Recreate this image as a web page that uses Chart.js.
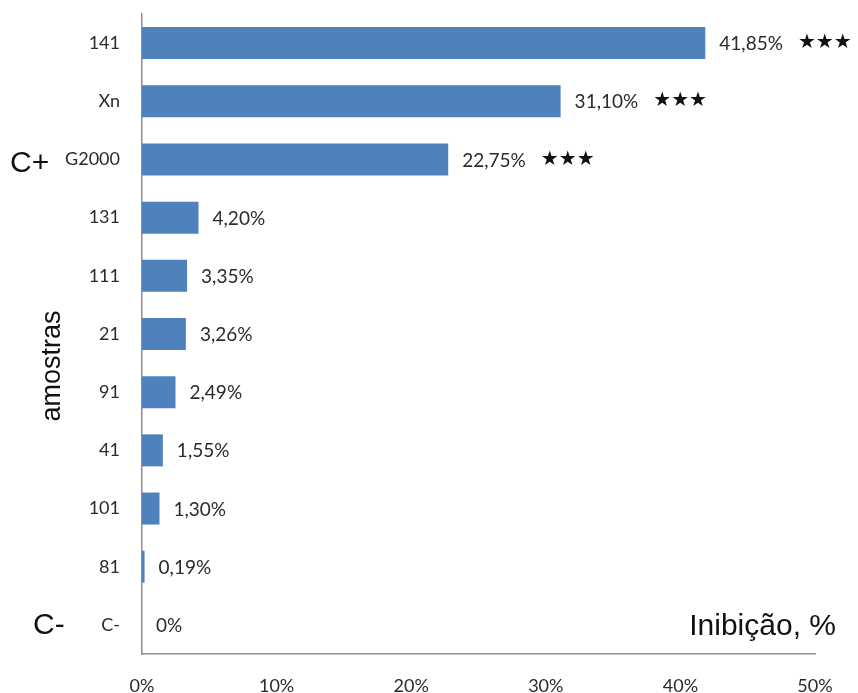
<!DOCTYPE html>
<html>
<head>
<meta charset="utf-8">
<script src="https://cdn.jsdelivr.net/npm/chart.js@4/dist/chart.umd.min.js"></script>
<style>
  html, body { margin: 0; padding: 0; background: #ffffff; }
  #wrap { width: 858px; height: 693px; }
</style>
</head>
<body>
<div id="wrap"><canvas id="chart" width="858" height="693"></canvas></div>
<script>
// Samples, top to bottom
const amostras = ['141', 'Xn', 'G2000', '131', '111', '21', '91', '41', '101', '81', 'C-'];
// Inhibition, %
const inibicao = [41.85, 31.10, 22.75, 4.20, 3.35, 3.26, 2.49, 1.55, 1.30, 0.19, 0];
// Significance markers next to the value labels
const significancia = ['★★★', '★★★', '★★★', '', '', '', '', '', '', '', ''];
// X axis ticks
const xTicks = [0, 10, 20, 30, 40, 50];

const TEXT = '#2b2b2b';
const LABEL_FONT = '19px Lato';

function pct(v) {
  if (v === 0) return '0%';
  return v.toFixed(2).replace('.', ',') + '%';
}

// Value labels with optional significance stars
const valueLabels = {
  id: 'valueLabels',
  afterDatasetsDraw(chart) {
    const ctx = chart.ctx;
    const meta = chart.getDatasetMeta(0);
    ctx.save();
    ctx.textBaseline = 'middle';
    ctx.textAlign = 'left';
    meta.data.forEach((bar, i) => {
      const txt = pct(inibicao[i]);
      const x = bar.x + 14;
      ctx.font = LABEL_FONT;
      ctx.fillStyle = TEXT;
      ctx.fillText(txt, x, bar.y + 1);
      if (significancia[i]) {
        const w = ctx.measureText(txt).width;
        ctx.font = '20px "DejaVu Sans"';
        ctx.fillStyle = '#111111';
        ctx.fillText(significancia[i], x + w + 15, bar.y);
      }
    });
    ctx.restore();
  }
};

// Group markers, axis titles
const annotations = {
  id: 'annotations',
  afterDraw(chart) {
    const ctx = chart.ctx;
    const y = chart.scales.y;
    const area = chart.chartArea;
    ctx.save();
    ctx.fillStyle = '#111111';
    ctx.font = '30px "Liberation Sans"';
    ctx.textBaseline = 'middle';
    ctx.textAlign = 'left';
    ctx.fillText('C+', 10, y.getPixelForValue(2) + 4);
    ctx.fillText('C-', 33, y.getPixelForValue(10) + 1);

    ctx.textAlign = 'right';
    ctx.textBaseline = 'alphabetic';
    ctx.fillText('Inibição, %', 836, area.bottom - 19);

    ctx.translate(60, area.top + (area.bottom - area.top) * 0.55);
    ctx.rotate(-Math.PI / 2);
    ctx.textAlign = 'center';
    ctx.font = '27px "Liberation Sans"';
    ctx.fillText('amostras', 0, 0);
    ctx.restore();
  }
};

new Chart(document.getElementById('chart'), {
  type: 'bar',
  data: {
    labels: amostras,
    datasets: [{
      data: inibicao,
      backgroundColor: '#4F81BD',
      borderWidth: 0,
      categoryPercentage: 1,
      barPercentage: 0.55
    }]
  },
  options: {
    indexAxis: 'y',
    responsive: false,
    animation: false,
    events: [],
    layout: { padding: { left: 0, right: 43, top: 14, bottom: 0 } },
    plugins: { legend: { display: false }, tooltip: { enabled: false } },
    scales: {
      x: {
        min: 0,
        max: 50,
        afterBuildTicks(scale) { scale.ticks = xTicks.map(v => ({ value: v })); },
        afterFit(scale) { scale.height = 39; },
        // tick marks hidden; tickLength only spaces the labels from the axis
        grid: { display: false, drawTicks: true, tickLength: 21 },
        border: { display: true, color: '#8e8e8e', width: 1.5 },
        ticks: {
          padding: 0,
          maxRotation: 0,
          font: { family: 'Lato', size: 18 },
          color: TEXT,
          callback: v => v + '%'
        }
      },
      y: {
        afterFit(scale) { scale.width = 142; },
        grid: { display: false, drawTicks: true, tickLength: 22 },
        border: { display: true, color: '#8e8e8e', width: 1.5 },
        ticks: {
          padding: 0,
          font: { family: 'Lato', size: 18 },
          color: TEXT
        }
      }
    }
  },
  plugins: [valueLabels, annotations]
});
</script>
</body>
</html>
